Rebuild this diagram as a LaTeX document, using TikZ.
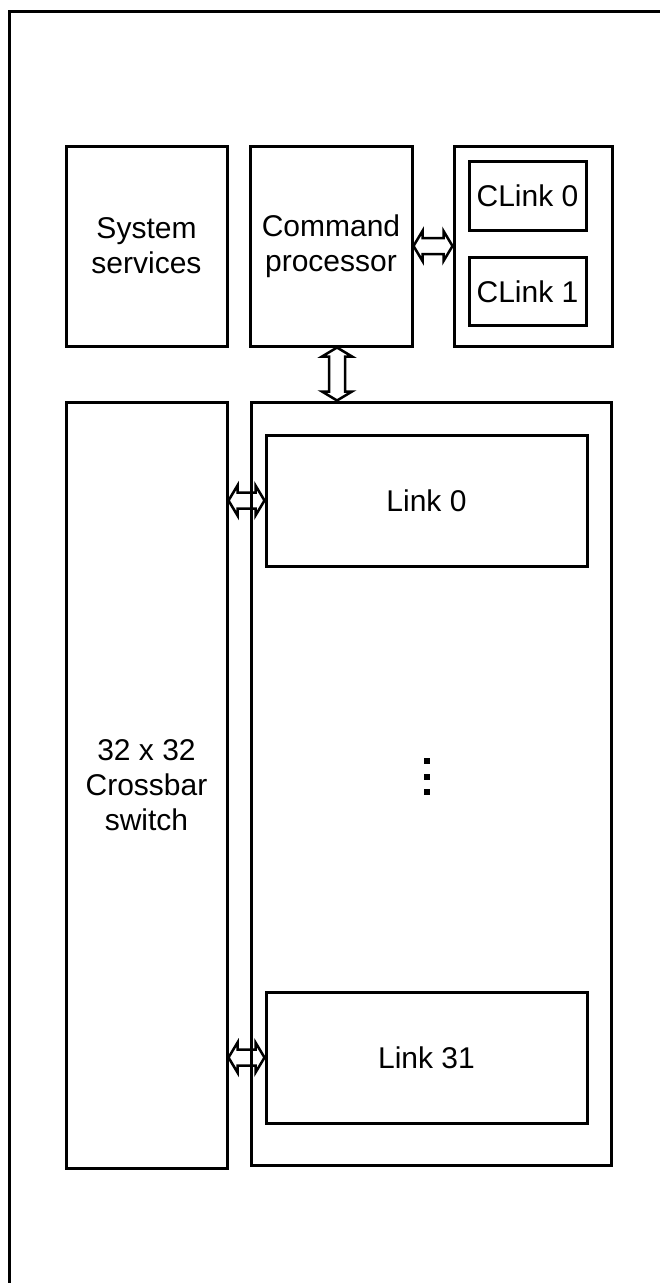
\documentclass[tikz,border=0pt]{standalone}
\usepackage{fontspec}
\setmainfont{Liberation Sans}
\usetikzlibrary{calc,backgrounds}

\tikzset{
  unit/.style={draw, line width=3pt, inner sep=0pt, align=center,
    font=\fontsize{30}{35}\selectfont},
  % hollow double-headed block arrow between two points
  biarrow/.style={line width=2.5pt, line join=miter, to path={
    -- ($(\tikztostart)!9pt!(\tikztotarget)!15pt!90:(\tikztotarget)$)
    -- ($(\tikztostart)!9pt!(\tikztotarget)!8pt!90:(\tikztotarget)$)
    -- ($(\tikztotarget)!9pt!(\tikztostart)!8pt!-90:(\tikztostart)$)
    -- ($(\tikztotarget)!9pt!(\tikztostart)!15pt!-90:(\tikztostart)$)
    -- (\tikztotarget)
    -- ($(\tikztotarget)!9pt!(\tikztostart)!15pt!90:(\tikztostart)$)
    -- ($(\tikztotarget)!9pt!(\tikztostart)!8pt!90:(\tikztostart)$)
    -- ($(\tikztostart)!9pt!(\tikztotarget)!8pt!-90:(\tikztotarget)$)
    -- ($(\tikztostart)!9pt!(\tikztotarget)!15pt!-90:(\tikztotarget)$)
    -- cycle}}
}

\begin{document}
\begin{tikzpicture}[x=1pt,y=1pt,yscale=-1,xscale=1]
\useasboundingbox (0,0) rectangle (660,1283);

% outer frame, runs off the right and bottom
\draw[line width=3pt] (9,1290) -- (9,11) -- (670,11);

% top row
\node[unit, minimum width=161, minimum height=200] (sys) at (146.5,246) {System\\services};
\node[unit, minimum width=162, minimum height=200] (cmd) at (331,246) {Command\\processor};
\node[unit, minimum width=158, minimum height=200] (clgrp) at (533,246) {};
\node[unit, minimum width=117, minimum height=69] (cl0) at (527.5,196) {CLink 0};
\node[unit, minimum width=117, minimum height=68] (cl1) at (527.5,291.5) {CLink 1};

% crossbar and links
\node[unit, minimum width=161, minimum height=766] (xbar) at (146.5,785) {32 x 32\\Crossbar\\switch};
\node[unit, minimum width=360, minimum height=763] (links) at (431,783.5) {};
\node[unit, minimum width=321, minimum height=131] (lk0) at (426.5,500.5) {Link 0};
\node[unit, minimum width=321, minimum height=131] (lk31) at (426.5,1057.5) {Link 31};

% dots
\foreach \y in {761,777,792}
  \fill (424,\y-3) rectangle (430,\y+3);

% arrow ends
\coordinate (cmdout) at ([xshift=6]cmd.south);
\coordinate (lnkin) at (cmdout |- links.north);
\coordinate (xb0) at (lk0.west -| xbar.east);
\coordinate (xb31) at (lk31.west -| xbar.east);

\begin{scope}[on background layer]
\draw[biarrow] (cmd.east) to (clgrp.west);
\draw[biarrow] (cmdout) to (lnkin);
\draw[biarrow] (xb0) to (lk0.west);
\draw[biarrow] (xb31) to (lk31.west);
\end{scope}

\end{tikzpicture}
\end{document}
